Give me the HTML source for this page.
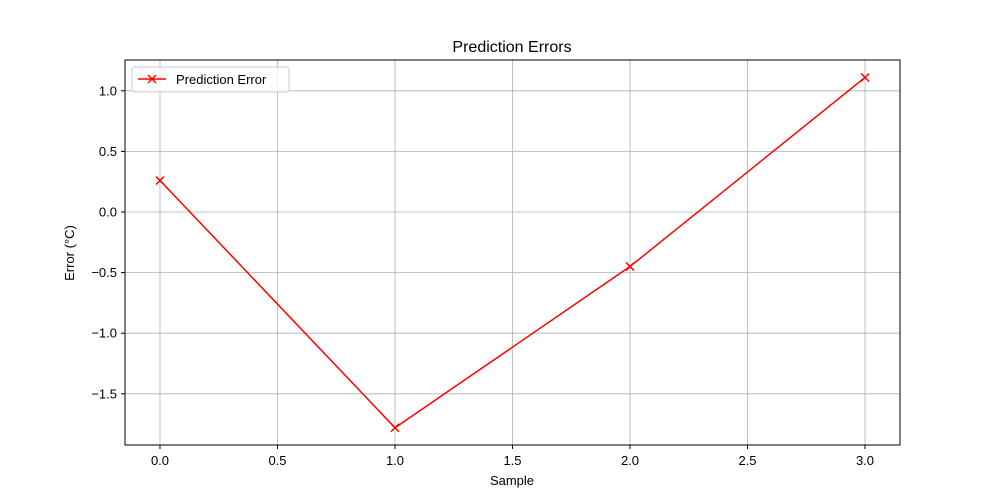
<!DOCTYPE html>
<html><head><meta charset="utf-8"><style>
body{margin:0;background:#fff;}
svg{display:block;font-family:"Liberation Sans","DejaVu Sans",sans-serif;}
</style></head><body>
<svg id="chart" width="1000" height="500" viewBox="0 0 1000 500">
<rect width="1000" height="500" fill="#fff"/>
<g id="grid"></g>
<g id="axes"></g>
<g id="series"></g>
<rect x="125" y="60" width="775" height="385" fill="none" stroke="#000" stroke-width="1"/>
<text x="512" y="52" text-anchor="middle" font-size="16">Prediction Errors</text>
<text x="512" y="485" text-anchor="middle" font-size="13">Sample</text>
<text transform="translate(74,253) rotate(-90)" text-anchor="middle" font-size="13">Error (°C)</text>
<g>
<rect x="132" y="67" width="157" height="25" rx="3" fill="#fff" fill-opacity="0.8" stroke="#ccc"/>
<line x1="138" y1="79" x2="166" y2="79" stroke="red" stroke-width="1.5"/>
<path d="M148,75 L156,83 M156,75 L148,83" stroke="red" stroke-width="1.5"/>
<text x="176" y="84" font-size="13">Prediction Error</text>
</g>
</svg>
<script>
const samples=[0,1,2,3];
const errors=[0.26,-1.78,-0.45,1.11];
const xTicks=[0,0.5,1,1.5,2,2.5,3];
const yTicks=[-1.5,-1,-0.5,0,0.5,1];
const NS="http://www.w3.org/2000/svg";
function sx(v){return 160+v*235;}
function sy(v){return 212-v*121.2;}
function mk(t,a,p){const e=document.createElementNS(NS,t);for(const k in a)e.setAttribute(k,a[k]);p.appendChild(e);return e;}
const grid=document.getElementById('grid'),axes=document.getElementById('axes'),series=document.getElementById('series');
xTicks.forEach(t=>{const x=sx(t);
const g=mk('line',{x1:x,x2:x,y1:60,y2:445,stroke:'#b0b0b0','stroke-width':0.8},grid);


const tk=mk('line',{x1:x,x2:x,y1:445,y2:449,stroke:'#000'},axes);


const l=mk('text',{x:x,y:465,'text-anchor':'middle','font-size':13},axes);l.textContent=t.toFixed(1);

});
yTicks.forEach(t=>{const y=sy(t);
const g=mk('line',{x1:125,x2:900,y1:y,y2:y,stroke:'#b0b0b0','stroke-width':0.8},grid);


const tk=mk('line',{x1:121,x2:125,y1:y,y2:y,stroke:'#000'},axes);


const l=mk('text',{x:117,y:y+4.5,'text-anchor':'end','font-size':13},axes);l.textContent=(t<0?'\u2212':'')+Math.abs(t).toFixed(1);

});
const pts=samples.map((s,i)=>sx(s)+','+sy(errors[i])).join(' ');
const pl=mk('polyline',{points:pts,fill:'none',stroke:'red','stroke-width':1.5},series);


samples.forEach((s,i)=>{const x=sx(s),y=sy(errors[i]);
const m=mk('path',{d:`M${x-4},${y-4}L${x+4},${y+4}M${x+4},${y-4}L${x-4},${y+4}`,stroke:'red','stroke-width':1.5},series);

});
</script>
</body></html>
